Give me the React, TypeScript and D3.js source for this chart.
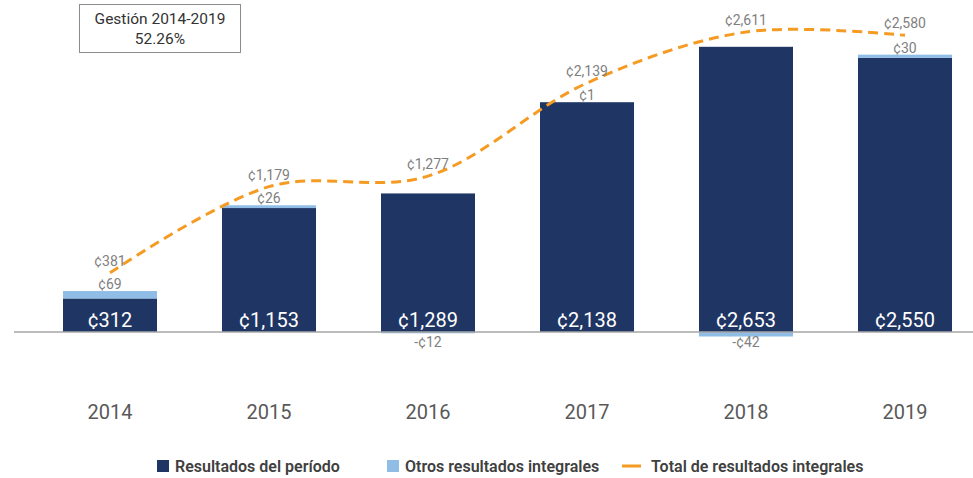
import React from "react";
import * as d3 from "d3";

const years = ["2014", "2015", "2016", "2017", "2018", "2019"];
const resultados = [312, 1153, 1289, 2138, 2653, 2550];
const otros = [69, 26, -12, 1, -42, 30];
const total = [381, 1179, 1277, 2139, 2611, 2580];
const legendLabels = ["Resultados del período", "Otros resultados integrales", "Total de resultados integrales"];
const boxLines = ["Gestión 2014-2019", "52.26%"];

const W = 973;
const H = 478;
const DARK = "#1f3563";
const LIGHT = "#8fbde6";
const ORANGE = "#f59b23";
const GRAY = "#7f7f7f";
const FONT = "Roboto, 'DejaVu Sans', sans-serif";

const fmt = (v: number) => (v < 0 ? "-¢" : "¢") + d3.format(",")(Math.abs(v));

export default function App() {
  const x = d3
    .scaleBand<string>()
    .domain(years)
    .range([30.5, 30.5 + 159 * years.length])
    .paddingInner(65 / 159)
    .paddingOuter(65 / 318);
  const y = d3.scaleLinear().domain([0, 3000]).range([332, 332 - 322.5]);
  const yLine = d3.scaleLinear().domain([0, 3000]).range([314, 314 - 324]);
  const bw = x.bandwidth();
  const cx = (yr: string) => (x(yr) as number) + bw / 2;

  const linePath = d3
    .line<number>()
    .x((_, i) => cx(years[i]))
    .y((d) => yLine(d))
    .curve(d3.curveCatmullRom.alpha(0.5))(total) as string;

  return (
    <svg width={W} height={H} style={{ display: "block", position: "absolute", left: 0, top: 0 }} fontFamily={FONT}>
      <rect width={W} height={H} fill="#fff" />
      {/* bars */}
      {years.map((yr, i) => {
        const d = resultados[i];
        const o = otros[i];
        const x0 = x(yr) as number;
        return (
          <g key={yr}>
            <rect x={x0} y={y(d)} width={bw} height={y(0) - y(d)} fill={DARK} />
            {o >= 0 ? (
              <rect x={x0} y={y(d + o)} width={bw} height={y(d) - y(d + o)} fill={LIGHT} />
            ) : (
              <rect x={x0} y={y(0)} width={bw} height={y(o) - y(0)} fill={LIGHT} />
            )}
          </g>
        );
      })}
      {/* axis baseline */}
      <line x1={14} x2={W} y1={y(0)} y2={y(0)} stroke="#a6a6a6" strokeWidth={1.5} />
      {/* dark labels */}
      {years.map((yr, i) => (
        <text key={"d" + yr} x={cx(yr)} y={y(0) - 5} textAnchor="middle" fill="#fff" fontSize={20}>
          {fmt(resultados[i])}
        </text>
      ))}
      {/* otros labels */}
      {years.map((yr, i) => {
        const o = otros[i];
        const pos = o >= 0;
        const ty = pos ? y(resultados[i] + o) - 2 : y(0) + 15;
        return (
          <text key={"o" + yr} x={cx(yr)} y={ty} textAnchor="middle" fill={GRAY} fontSize={14}>
            {fmt(o)}
          </text>
        );
      })}
      {/* total line */}
      <path d={linePath} fill="none" stroke={ORANGE} strokeWidth={3} strokeDasharray="10 6" />
      {years.map((yr, i) => (
        <text key={"t" + yr} x={cx(yr)} y={yLine(total[i]) - 7} textAnchor="middle" fill={GRAY} fontSize={14}>
          {fmt(total[i])}
        </text>
      ))}
      {/* year labels */}
      {years.map((yr) => (
        <text key={"y" + yr} x={cx(yr)} y={419} textAnchor="middle" fill="#595959" fontSize={20}>
          {yr}
        </text>
      ))}
      {/* box */}
      <rect x={79.5} y={4.5} width={161} height={48} fill="#fff" stroke="#8c8c8c" strokeWidth={1} />
      {boxLines.map((t, i) => (
        <text key={t} x={160} y={24 + i * 20} textAnchor="middle" fill="#333" fontSize={15.5}>
          {t}
        </text>
      ))}
      {/* legend */}
      <g fontSize={16} fontWeight={600} fill="#404040">
        <rect x={157} y={460} width={12} height={12} fill={DARK} />
        <text x={175} y={471.5}>{legendLabels[0]}</text>
        <rect x={387} y={460} width={12} height={12} fill={LIGHT} />
        <text x={405} y={471.5}>{legendLabels[1]}</text>
        <line x1={622} x2={641} y1={466} y2={466} stroke={ORANGE} strokeWidth={3} />
        <text x={651} y={471.5}>{legendLabels[2]}</text>
      </g>
    </svg>
  );
}
